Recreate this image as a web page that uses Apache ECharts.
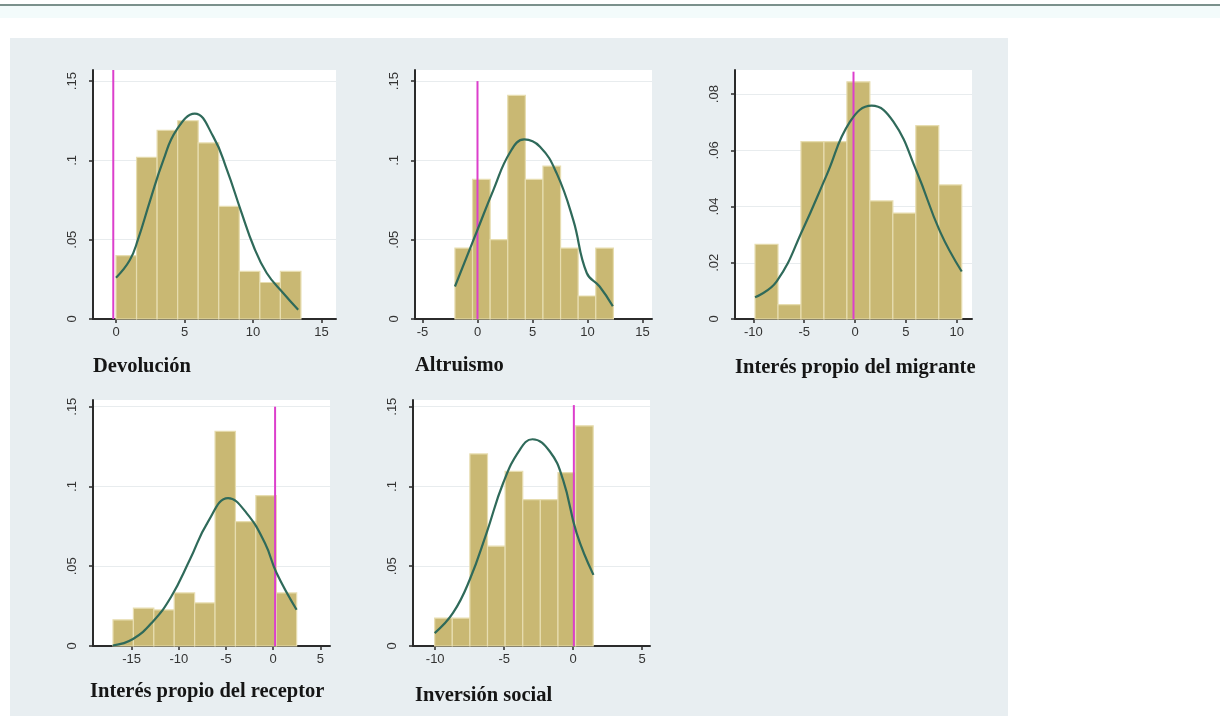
<!DOCTYPE html>
<html><head><meta charset="utf-8">
<script src="https://cdn.jsdelivr.net/npm/echarts@6/dist/echarts.min.js"></script>
<style>
html,body{margin:0;padding:0;background:#fff;}
#topline{position:absolute;left:0;top:4px;width:1220px;height:2px;background:#7b918c;}
#band{position:absolute;left:0;top:6px;width:1220px;height:12px;background:#f3fbfb;}
#panel{position:absolute;left:10px;top:38px;width:998px;height:678px;background:#e8eef1;}
#c{position:absolute;left:0;top:0;width:1220px;height:716px;}
</style>
</head><body>
<div id="band"></div><div id="topline"></div><div id="panel"></div>
<div id="c"></div>
<script>
// ---------- data ----------
const titles = ['Devolución', 'Altruismo', 'Interés propio del migrante', 'Interés propio del receptor', 'Inversión social'];

// histogram bins: first left edge and bin width for each panel
const binStarts = [0, -2.05, -9.83, -16.98, -10.04];
const binWidths = [1.5, 1.6, 2.258, 2.163, 1.277];

// densities (bar heights)
const densDevolucion = [0.040, 0.102, 0.119, 0.125, 0.111, 0.071, 0.030, 0.023, 0.030];
const densAltruismo  = [0.0447, 0.088, 0.050, 0.141, 0.088, 0.0964, 0.0447, 0.0145, 0.0447];
const densMigrante   = [0.0266, 0.0051, 0.0631, 0.0631, 0.0844, 0.042, 0.0377, 0.0688, 0.0477];
const densReceptor   = [0.0164, 0.0237, 0.0226, 0.0333, 0.027, 0.1346, 0.078, 0.0943, 0.0333];
const densInversion  = [0.0175, 0.0175, 0.1204, 0.0626, 0.1094, 0.0918, 0.0918, 0.1087, 0.138];

// density curves (x, y)
const curveDevolucion = [[0,0.026],[1.0,0.037],[1.6,0.05],[2.5,0.075],[3.45,0.1],[4.4,0.119],[5.75,0.1295],[7.1,0.115],[8.1,0.094],[9.1,0.0687],[10.05,0.0457],[11.0,0.029],[12.2,0.0164],[13.3,0.0058]];
const curveAltruismo  = [[-2.05,0.0205],[-0.07,0.055],[1.44,0.0813],[2.95,0.105],[4.25,0.1132],[5.68,0.1086],[7.2,0.0918],[8.7,0.0625],[9.93,0.029],[11.1,0.0205],[12.3,0.008]];
const curveMigrante   = [[-9.83,0.0077],[-7.7,0.0134],[-5.08,0.0323],[-2.78,0.0513],[-0.49,0.0702],[1.64,0.0759],[3.77,0.0702],[6.07,0.0524],[8.36,0.0311],[10.49,0.0169]];
const curveReceptor   = [[-17,0.0003],[-14.86,0.0044],[-12.74,0.0154],[-10.8,0.031],[-8.84,0.054],[-6.9,0.078],[-4.78,0.0927],[-2.82,0.0833],[-0.88,0.0645],[0.36,0.0457],[2.48,0.0227]];
const curveInversion  = [[-10.04,0.0081],[-8.71,0.0207],[-7.5,0.0415],[-6.28,0.0708],[-5.08,0.102],[-3.87,0.123],[-2.95,0.1296],[-1.69,0.1219],[-0.73,0.1041],[0.25,0.0708],[1.47,0.0446]];

// vertical reference line (x position, top value)
const vlineX   = [-0.2, 0, -0.15, 0.2, 0.05];
const vlineTop = [0.157, 0.15, 0.088, 0.15, 0.151];

// tick values and labels
const xTicks = [[0,5,10,15], [-5,0,5,10,15], [-10,-5,0,5,10], [-15,-10,-5,0,5], [-10,-5,0,5]];
const yTicksA = [0, 0.05, 0.1, 0.15];
const yLabelsA = ['0', '.05', '.1', '.15'];
const yTicksB = [0, 0.02, 0.04, 0.06, 0.08];
const yLabelsB = ['0', '.02', '.04', '.06', '.08'];

// ---------- layout ----------
const dens = [densDevolucion, densAltruismo, densMigrante, densReceptor, densInversion];
const curves = [curveDevolucion, curveAltruismo, curveMigrante, curveReceptor, curveInversion];
const yTicks = [yTicksA, yTicksA, yTicksB, yTicksA, yTicksA];
const yLabels = [yLabelsA, yLabelsA, yLabelsB, yLabelsA, yLabelsA];

const grids = [
  {left:93,  top:70,  width:243, height:249},
  {left:415, top:70,  width:237, height:249},
  {left:735, top:70,  width:237, height:249},
  {left:93,  top:400, width:237, height:246},
  {left:413, top:400, width:237, height:246}
];
const xRange = [[-1.68,16.06],[-5.68,15.86],[-11.8,11.5],[-19.1,6.02],[-11.61,5.57]];
const yMax = [0.157, 0.157, 0.0886, 0.1542, 0.1542];
const titlePos = [[93,356],[415,355],[735,357],[90,681],[415,685]];

const axisColor = '#2b2b2b';
const labelStyle = {fontSize:13, color:'#333', fontFamily:'Liberation Sans'};

const option = {
  animation:false,
  title: titles.map((t,i)=>({text:t, left:titlePos[i][0], top:titlePos[i][1], padding:0,
    textStyle:{fontFamily:'Liberation Serif', fontWeight:'bold', fontSize:20.5, color:'#151515'}})),
  grid: grids.map(g=>Object.assign({show:true, backgroundColor:'#ffffff', borderWidth:0, containLabel:false}, g)),
  xAxis: grids.map((g,i)=>({
    type:'value', gridIndex:i, min:xRange[i][0], max:xRange[i][1],
    axisLine:{show:true, onZero:false, lineStyle:{color:axisColor, width:2}},
    axisTick:{show:true, customValues:xTicks[i], length:4, lineStyle:{color:axisColor, width:1.5}},
    axisLabel:Object.assign({customValues:xTicks[i], margin:7, formatter:v=>String(v)}, labelStyle),
    splitLine:{show:false}
  })),
  yAxis: grids.map((g,i)=>({
    type:'value', gridIndex:i, min:0, max:yMax[i],
    axisLine:{show:true, onZero:false, lineStyle:{color:axisColor, width:2}},
    axisTick:{show:true, customValues:yTicks[i], length:4, lineStyle:{color:axisColor, width:1.5}},
    axisLabel:Object.assign({customValues:yTicks[i], rotate:90, margin:14,
      formatter:v=>{let k=0,b=1e9; yTicks[i].forEach((t,j)=>{if(Math.abs(t-v)<b){b=Math.abs(t-v);k=j;}}); return yLabels[i][k];}}, labelStyle),
    splitLine:{show:true, lineStyle:{color:'#e8ecee', width:1}}
  })),
  series: []
};

grids.forEach((g,i)=>{
  const w = binWidths[i];
  const barData = dens[i].map((d,j)=>[binStarts[i] + j*w, d]);
  option.series.push({
    type:'custom', xAxisIndex:i, yAxisIndex:i, data:barData, z:2, silent:true,
    renderItem:(params, api)=>{
      const x0 = api.value(0), h = api.value(1);
      const p0 = api.coord([x0, h]);
      const p1 = api.coord([x0 + w, 0]);
      return {type:'rect', shape:{x:p0[0], y:p0[1], width:p1[0]-p0[0], height:p1[1]-p0[1]},
        style:{fill:'#c9b873', stroke:'#e7ddb0', lineWidth:1.2}};
    }
  });
  option.series.push({
    type:'line', xAxisIndex:i, yAxisIndex:i, z:3, silent:true, symbol:'none',
    data:[[vlineX[i],0],[vlineX[i],vlineTop[i]]],
    lineStyle:{color:'#dc3fcc', width:2}
  });
  option.series.push({
    type:'line', xAxisIndex:i, yAxisIndex:i, z:4, silent:true, symbol:'none', smooth:0.45,
    data:curves[i], lineStyle:{color:'#2f6a5a', width:2.2}
  });
});

const chart = echarts.init(document.getElementById('c'));
chart.setOption(option);
</script>
</body></html>
